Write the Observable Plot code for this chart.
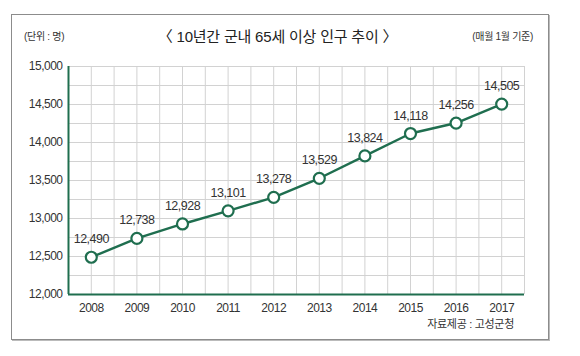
<!DOCTYPE html>
<html><head><meta charset="utf-8">
<script src="https://cdn.jsdelivr.net/npm/d3@7"></script>
<script src="https://cdn.jsdelivr.net/npm/@observablehq/plot@0.6"></script>
<style>
body{margin:0;background:#fff;}
#wrap{position:relative;width:580px;height:356px;overflow:hidden;font-family:"Liberation Sans",Arial,"Noto Sans CJK KR",sans-serif;color:#333;}
#frame{position:absolute;left:11px;top:14px;width:536px;height:324px;border:1.5px solid #8c8c8c;box-shadow:1px 1px 0 #bbb;}
.t{position:absolute;white-space:nowrap;line-height:1;}
#chart{position:absolute;left:0;top:0;}
</style></head>
<body><div id="wrap">
<div id="frame"></div>
<div id="chart"></div>
<div class="t" id="unit" style="left:24px;top:32px;font-size:10px;letter-spacing:-0.3px;">(단위 : 명)</div>
<div class="t" id="title" style="left:0;width:555px;text-align:center;top:29px;font-size:15px;color:#222;letter-spacing:-0.2px;">〈 10년간 군내 65세 이상 인구 추이 〉</div>
<div class="t" id="basis" style="right:47px;top:32px;font-size:10px;letter-spacing:-0.3px;">(매월 1월 기준)</div>
<div class="t" id="source" style="right:66px;top:319px;font-size:11px;letter-spacing:-0.3px;">자료제공 : 고성군청</div>
</div>
<script>
const years = [2008, 2009, 2010, 2011, 2012, 2013, 2014, 2015, 2016, 2017];
const population = [12490, 12738, 12928, 13101, 13278, 13529, 13824, 14118, 14256, 14505];
const yTicks = [12000, 12500, 13000, 13500, 14000, 14500, 15000];

const data = years.map((y, i) => ({year: y, value: population[i]}));
const green = "#1f6e4f";
const hGrid = d3.range(12250, 15001, 250);
const vGrid = d3.range(2008, 2017.51, 0.5);
const fmt = d3.format(",");

const chart = Plot.plot({
  width: 580, height: 356,
  marginLeft: 68, marginRight: 56, marginTop: 66, marginBottom: 62,
  style: {fontFamily: "'Liberation Sans', Arial, sans-serif", color: "#333", background: "transparent"},
  x: {domain: [2007.5, 2017.5], ticks: years, tickFormat: d => String(d), tickSize: 0, tickPadding: 8, label: null},
  y: {domain: [12000, 15000], ticks: yTicks, tickFormat: fmt, tickSize: 0, tickPadding: 6, label: null},
  marks: [
    Plot.ruleY(hGrid, {stroke: "#d2d2d2", strokeWidth: 1, strokeOpacity: 1}),
    Plot.ruleX(vGrid, {stroke: "#d2d2d2", strokeWidth: 1, strokeOpacity: 1}),
    Plot.axisX({ticks: years, tickFormat: d => String(d), tickSize: 0, tickPadding: 9, fontSize: 12, fill: "#333"}),
    Plot.axisY({ticks: yTicks, tickFormat: fmt, tickSize: 0, tickPadding: 6, fontSize: 12, fill: "#333"}),
    Plot.ruleX([2007.5], {stroke: green, strokeWidth: 2}),
    Plot.ruleY([12000], {stroke: green, strokeWidth: 2}),
    Plot.line(data, {x: "year", y: "value", stroke: green, strokeWidth: 2.4}),
    Plot.dot(data, {x: "year", y: "value", r: 5.5, fill: "#fff", stroke: green, strokeWidth: 2.2}),
    Plot.text(data, {x: "year", y: "value", text: d => fmt(d.value), dy: -18, fontSize: 12.5, fill: "#333"})
  ]
});
chart.style.letterSpacing = "-0.5px";
document.getElementById("chart").appendChild(chart);
</script>
</body></html>
